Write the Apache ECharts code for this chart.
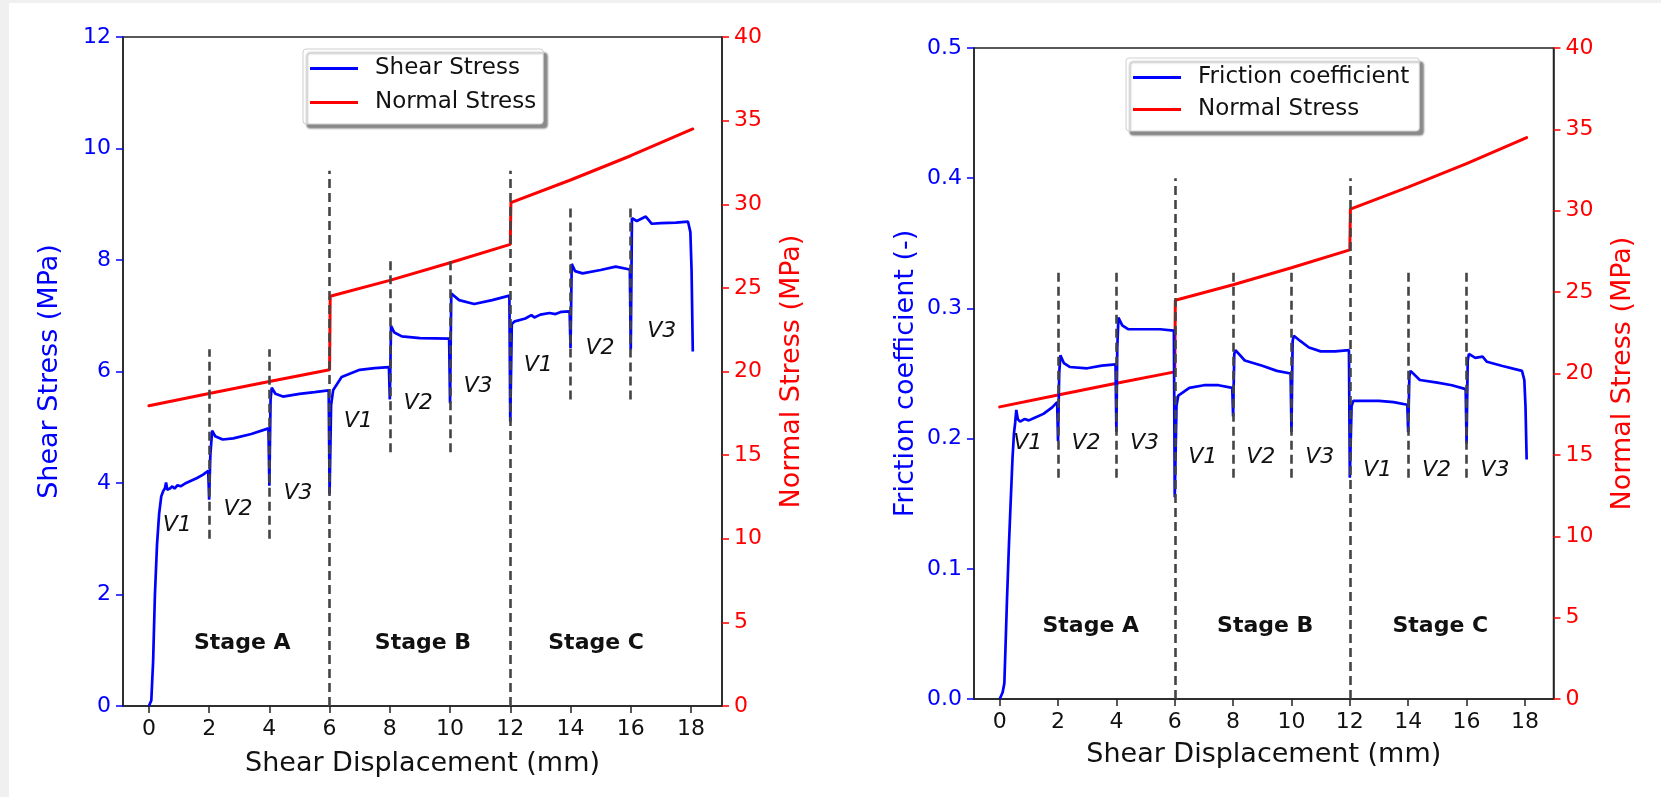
<!DOCTYPE html>
<html>
<head>
<meta charset="utf-8">
<script src="https://cdn.jsdelivr.net/npm/echarts@6/dist/echarts.min.js"></script>
<style>
 html, body { margin: 0; padding: 0; background: #f0f0f0; }
 #chart { position: absolute; left: 9px; top: 3px; width: 1652px; height: 794px; background: #fff; }
</style>
</head>
<body>
<div id="chart"></div>
<script>
// shear displacement (mm) vs shear stress (MPa)
const shearStress = [
 [0, 0], [0.08, 0.1], [0.14, 0.8], [0.2, 2.0], [0.27, 2.9], [0.34, 3.45], [0.41, 3.76], [0.48, 3.86],
 [0.53, 3.9], [0.57, 4.01], [0.61, 3.88], [0.7, 3.9], [0.78, 3.94], [0.85, 3.9], [0.95, 3.96], [1.05, 3.94],
 [1.2, 3.99], [1.4, 4.04], [1.6, 4.09], [1.8, 4.15], [1.97, 4.22], [2.0, 3.7], [2.04, 4.5], [2.1, 4.94],
 [2.2, 4.84], [2.45, 4.78], [2.8, 4.8], [3.4, 4.88], [3.97, 4.98], [4.0, 3.95], [4.04, 5.5], [4.08, 5.71],
 [4.2, 5.6], [4.45, 5.55], [5.0, 5.6], [5.5, 5.63], [5.97, 5.66], [6.0, 3.8], [6.05, 5.4], [6.12, 5.67],
 [6.4, 5.9], [7.0, 6.03], [7.5, 6.06], [7.97, 6.08], [8.0, 5.5], [8.04, 6.82], [8.15, 6.7], [8.4, 6.63],
 [9.0, 6.6], [9.97, 6.59], [10.0, 5.43], [10.04, 7.4], [10.3, 7.28], [10.8, 7.21], [11.4, 7.28], [11.97, 7.36],
 [12.0, 5.1], [12.05, 6.85], [12.15, 6.9], [12.5, 6.95], [12.7, 7.01], [12.8, 6.97], [13.0, 7.02], [13.3, 7.05],
 [13.5, 7.03], [13.7, 7.07], [13.97, 7.08], [14.0, 6.42], [14.04, 7.93], [14.15, 7.8], [14.4, 7.76], [15.0, 7.82],
 [15.5, 7.88], [15.97, 7.83], [16.0, 6.39], [16.04, 8.75], [16.2, 8.7], [16.35, 8.74], [16.5, 8.78], [16.7, 8.65],
 [17.0, 8.66], [17.5, 8.67], [17.9, 8.69], [17.98, 8.5], [18.02, 7.8], [18.06, 6.36]
];

// shear displacement (mm) vs friction coefficient (-)
const frictionCoef = [
 [0, 0], [0.1, 0.005], [0.16, 0.012], [0.2, 0.04], [0.25, 0.076], [0.32, 0.12], [0.38, 0.153], [0.44, 0.185],
 [0.49, 0.204], [0.53, 0.212], [0.57, 0.222], [0.62, 0.215], [0.7, 0.213], [0.85, 0.215], [1.0, 0.214],
 [1.2, 0.216], [1.5, 0.219], [1.8, 0.224], [1.97, 0.228], [2.0, 0.198], [2.04, 0.25], [2.08, 0.264],
 [2.2, 0.258], [2.4, 0.255], [3.0, 0.254], [3.5, 0.256], [3.97, 0.257], [4.0, 0.205], [4.03, 0.27],
 [4.07, 0.293], [4.2, 0.287], [4.4, 0.284], [5.0, 0.284], [5.5, 0.284], [5.97, 0.283], [6.0, 0.155],
 [6.06, 0.225], [6.12, 0.233], [6.5, 0.239], [7.0, 0.241], [7.5, 0.241], [7.97, 0.239], [8.0, 0.217],
 [8.04, 0.265], [8.08, 0.268], [8.4, 0.26], [9.0, 0.256], [9.5, 0.252], [9.97, 0.25], [10.0, 0.205],
 [10.04, 0.275], [10.08, 0.279], [10.3, 0.275], [10.6, 0.27], [11.0, 0.267], [11.5, 0.267], [11.97, 0.268],
 [12.0, 0.17], [12.06, 0.225], [12.12, 0.229], [12.5, 0.229], [13.0, 0.229], [13.5, 0.228], [13.97, 0.226],
 [14.0, 0.205], [14.04, 0.248], [14.08, 0.252], [14.4, 0.245], [15.0, 0.243], [15.5, 0.241], [15.97, 0.238],
 [16.0, 0.196], [16.04, 0.26], [16.08, 0.265], [16.3, 0.262], [16.55, 0.263], [16.7, 0.259], [17.2, 0.256],
 [17.9, 0.252], [17.98, 0.245], [18.02, 0.225], [18.06, 0.184]
];

// shear displacement (mm) vs normal stress (MPa), same record in both panels
const normalStress = [
 [0, 17.95], [2, 18.68], [4, 19.4], [6, 20.1], [6.02, 24.5], [8, 25.45], [10, 26.5], [12, 27.6],
 [12.02, 30.1], [14, 31.45], [16, 32.9], [18.06, 34.5]
];

const xTicks = [0, 2, 4, 6, 8, 10, 12, 14, 16, 18];

// dashed dividers: [x, from, to]
const shearDividers = [[2, 3.0, 6.4], [4, 3.0, 6.4], [6, 0, 9.6], [8, 4.55, 8.0], [10, 4.55, 8.0], [12, 0, 9.6], [14, 5.5, 8.95], [16, 5.5, 8.95]];
const frictionDividers = [[2, 0.17, 0.33], [4, 0.17, 0.33], [6, 0, 0.4], [8, 0.17, 0.33], [10, 0.17, 0.33], [12, 0, 0.4], [14, 0.17, 0.33], [16, 0.17, 0.33]];

// annotations: [x, y, text]
const shearVLabels = [[0.94, 3.24, 'V1'], [2.96, 3.52, 'V2'], [4.95, 3.82, 'V3'], [6.95, 5.1, 'V1'], [8.94, 5.43, 'V2'], [10.93, 5.73, 'V3'], [12.93, 6.12, 'V1'], [14.98, 6.42, 'V2'], [17.03, 6.72, 'V3']];
const frictionVLabels = [[0.96, 0.1965, 'V1'], [2.96, 0.1965, 'V2'], [4.96, 0.1965, 'V3'], [6.96, 0.186, 'V1'], [8.95, 0.186, 'V2'], [10.97, 0.186, 'V3'], [12.95, 0.176, 'V1'], [14.97, 0.176, 'V2'], [16.97, 0.176, 'V3']];
const shearStageLabels = [[3.1, 1.12, 'Stage A'], [9.1, 1.12, 'Stage B'], [14.85, 1.12, 'Stage C']];
const frictionStageLabels = [[3.12, 0.056, 'Stage A'], [9.1, 0.056, 'Stage B'], [15.1, 0.056, 'Stage C']];

const FONT = 'DejaVu Sans';
const INK = '#111';

function xAxis(gridIndex, min, max, gap) {
 return {
 type: 'value', gridIndex, min, max,
 name: 'Shear Displacement (mm)', nameLocation: 'middle', nameGap: gap,
 nameTextStyle: { fontSize: 27, color: INK, fontFamily: FONT },
 axisLine: { onZero: false, lineStyle: { color: '#222', width: 1.5 } },
 axisTick: { customValues: xTicks, length: 7, lineStyle: { color: '#222', width: 1.5 } },
 axisLabel: { customValues: xTicks, fontSize: 22, color: INK, margin: 12, fontFamily: FONT },
 splitLine: { show: false }
 };
}

function yAxis(gridIndex, position, min, max, interval, color, name, gap, fmt) {
 return {
 type: 'value', gridIndex, position, min, max, interval,
 name, nameLocation: 'middle', nameRotate: 90, nameGap: gap,
 nameTextStyle: { fontSize: 27, color, fontFamily: FONT },
 axisLine: { show: true, onZero: false, lineStyle: { color: '#222', width: 1.5 } },
 axisTick: { show: true, length: 7, lineStyle: { color, width: 1.5 } },
 axisLabel: { fontSize: 22, color, margin: 12, fontFamily: FONT, formatter: fmt },
 splitLine: { show: false }
 };
}

function legend(left, top, names, padRight, gap) {
 return {
 data: names, orient: 'vertical', left, top,
 icon: 'rect', itemWidth: 48, itemHeight: 3, itemGap: gap,
 padding: [8, padRight, 10, 7],
 textStyle: { fontSize: 23, color: INK, fontFamily: FONT, lineHeight: 23, padding: [0, 0, 0, 12] },
 backgroundColor: '#fff', borderColor: '#cfcfcf', borderWidth: 1, borderRadius: 3,
 shadowColor: 'rgba(0,0,0,0.45)', shadowBlur: 2, shadowOffsetX: 4, shadowOffsetY: 4
 };
}

function dividers(list) {
 return {
 silent: true, symbol: ['none', 'none'], animation: false,
 label: { show: false },
 lineStyle: { type: [9, 5], color: '#444', width: 2.6, opacity: 1 },
 emphasis: { disabled: true },
 data: list.map(d => [{ coord: [d[0], d[1]] }, { coord: [d[0], d[2]] }])
 };
}

function textSeries(xi, yi, list, style) {
 return {
 type: 'scatter', xAxisIndex: xi, yAxisIndex: yi, symbolSize: 0, silent: true, z: 5,
 itemStyle: { opacity: 1 },
 data: list.map(d => ({ value: [d[0], d[1]], name: d[2] })),
 label: Object.assign({ show: true, position: 'inside', formatter: p => p.name, color: INK, opacity: 1, fontFamily: FONT }, style)
 };
}

const chart = echarts.init(document.getElementById('chart'));
chart.setOption({
 animation: false,
 textStyle: { fontFamily: FONT },
 grid: [
 { left: 114, top: 34, width: 599, height: 669, show: true, borderColor: '#222', borderWidth: 1.5, backgroundColor: '#fff', outerBoundsMode: 'none' },
 { left: 965, top: 45, width: 579.5, height: 651, show: true, borderColor: '#222', borderWidth: 1.5, backgroundColor: '#fff', outerBoundsMode: 'none' }
 ],
 legend: [
 legend(294, 46, ['Shear Stress', 'Normal Stress'], 7, 11),
 legend(1117, 55, ['Friction coefficient', 'Normal Stress'], 10, 9)
 ],
 xAxis: [xAxis(0, -0.86, 19.03, 44), xAxis(1, -0.88, 18.98, 42)],
 yAxis: [
 yAxis(0, 'left', 0, 12, 2, '#0000ff', 'Shear Stress (MPa)', 60),
 yAxis(0, 'right', 0, 40, 5, '#ff0000', 'Normal Stress (MPa)', 56),
 yAxis(1, 'left', 0, 0.5, 0.1, '#0000ff', 'Friction coefficient (-)', 55, v => v.toFixed(1)),
 yAxis(1, 'right', 0, 40, 5, '#ff0000', 'Normal Stress (MPa)', 56)
 ],
 series: [
 {
 name: 'Shear Stress', type: 'line', xAxisIndex: 0, yAxisIndex: 0, data: shearStress,
 showSymbol: false, color: '#0000ff', lineStyle: { width: 2.7 }, z: 3,
 markLine: dividers(shearDividers)
 },
 {
 name: 'Normal Stress', type: 'line', xAxisIndex: 0, yAxisIndex: 1, data: normalStress,
 showSymbol: false, color: '#ff0000', lineStyle: { width: 3, cap: 'round' }, z: 2
 },
 textSeries(0, 0, shearVLabels, { fontSize: 22, fontStyle: 'italic' }),
 textSeries(0, 0, shearStageLabels, { fontSize: 22, fontWeight: 'bold' }),
 {
 name: 'Friction coefficient', type: 'line', xAxisIndex: 1, yAxisIndex: 2, data: frictionCoef,
 showSymbol: false, color: '#0000ff', lineStyle: { width: 2.7 }, z: 3,
 markLine: dividers(frictionDividers)
 },
 {
 name: 'Normal Stress', type: 'line', xAxisIndex: 1, yAxisIndex: 3, data: normalStress,
 showSymbol: false, color: '#ff0000', lineStyle: { width: 3, cap: 'round' }, z: 2
 },
 textSeries(1, 2, frictionVLabels, { fontSize: 22, fontStyle: 'italic' }),
 textSeries(1, 2, frictionStageLabels, { fontSize: 22, fontWeight: 'bold' })
 ]
});
</script>
</body>
</html>
